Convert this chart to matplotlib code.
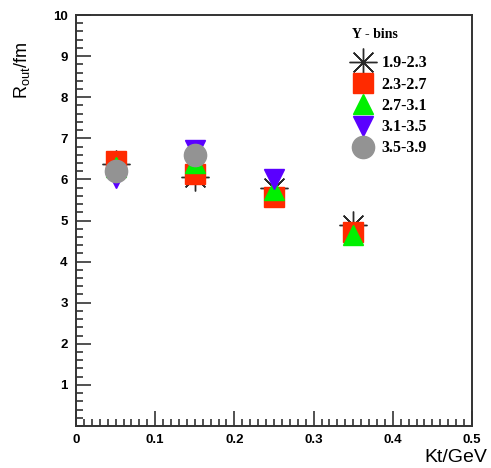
import matplotlib
matplotlib.use("Agg")
import matplotlib.pyplot as plt
from matplotlib.ticker import MultipleLocator

plt.rcParams["font.family"] = "Liberation Sans"

# Kt bins and Rout values for each rapidity bin
kt = [0.05, 0.15, 0.25, 0.35]
ybins = ["1.9-2.3", "2.3-2.7", "2.7-3.1", "3.1-3.5", "3.5-3.9"]
r_19 = [6.38, 6.06, 5.80, 4.89]
r_23 = [6.45, 6.12, 5.58, 4.72]
r_27 = [6.30, 6.40, 5.74, 4.65]
r_31 = [6.03, 6.72, 6.02]
r_35 = [6.20, 6.60]

fig = plt.figure(figsize=(4.91, 4.68), dpi=100)
ax = fig.add_axes([76 / 491, 42 / 468, 396 / 491, 411 / 468])

ax.plot(kt, r_19, ls="none", marker=(8, 2, 0), ms=20, mew=1.0,
        color="#2a2a2a", label=ybins[0])
ax.plot(kt, r_23, ls="none", marker="s", ms=14, color="#ff2a00",
        mec="#ff2a00", label=ybins[1])
ax.plot(kt, r_27, ls="none", marker="^", ms=14, color="#00f000",
        mec="#00f000", label=ybins[2])
ax.plot(kt[:3], r_31, ls="none", marker="v", ms=14, color="#5a00ff",
        mec="#5a00ff", label=ybins[3])
ax.plot(kt[:2], r_35, ls="none", marker="o", ms=16, color="#939393",
        mec="#939393", label=ybins[4])

ax.set_xlim(0, 0.5)
ax.set_ylim(0, 10)
ax.xaxis.set_minor_locator(MultipleLocator(0.01))
ax.yaxis.set_minor_locator(MultipleLocator(0.2))
ax.set_yticks(range(1, 11))
ax.set_yticklabels([str(i) for i in range(1, 11)], fontweight="bold")
ax.set_xticks([0, 0.1, 0.2, 0.3, 0.4, 0.5])
ax.set_xticklabels(["0", "0.1", "0.2", "0.3", "0.4", "0.5"], fontweight="bold")
ax.tick_params(which="both", direction="in", top=False, right=False,
               width=1.2, color="#333333")
ax.tick_params(which="major", length=11, labelsize=9.5, pad=6)
ax.tick_params(which="minor", length=5)
for sp in ax.spines.values():
    sp.set_linewidth(1.4)
    sp.set_color("#333333")

fig.text(487 / 491, 1 - 458 / 468, "Kt/GeV", ha="right", va="center",
         fontsize=14)
fig.text(22 / 491, 1 - 99 / 468, r"R$_{\mathregular{out}}$/fm", rotation=90,
         ha="center", va="bottom", fontsize=13)

leg = ax.legend(loc="upper left", bbox_to_anchor=(344 / 491, 1 - 49 / 468),
                bbox_transform=fig.transFigure, frameon=False,
                prop={"family": "Liberation Serif", "weight": "bold", "size": 11.5},
                labelspacing=0.33, handlelength=1.6, handletextpad=0.37,
                borderaxespad=0, borderpad=0.4)
fig.text(375 / 491, 1 - 35 / 468, "Y - bins", ha="center", va="center",
         fontsize=10, family="Liberation Serif", weight="bold")

fig.savefig("out.png", dpi=100)
